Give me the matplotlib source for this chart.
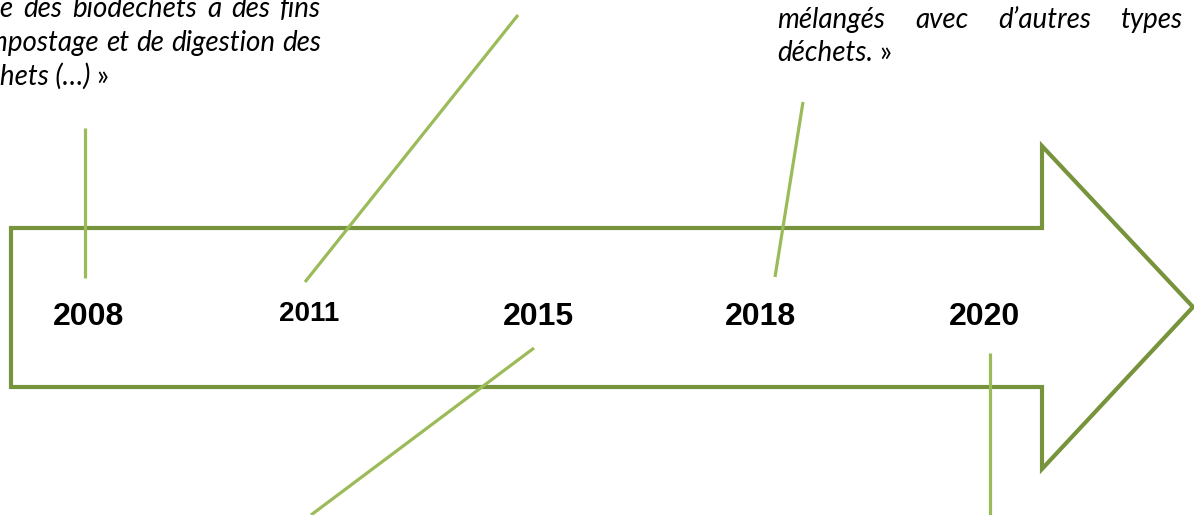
import matplotlib.pyplot as plt
from matplotlib.patches import Polygon

# ---- data -------------------------------------------------------------
years = ['2008', '2011', '2015', '2018', '2020']
year_x = [89, 309, 538, 761, 985]
year_y = [317, 314, 317, 317, 317]
year_size = [23, 20, 23, 23, 23]

# connector segments (x0, y0, x1, y1), pixel coordinates
connectors = [
    (85, 128, 85, 278),
    (305, 282, 518, 15),
    (534, 348, 311, 515),
    (775, 277, 803, 102),
    (990, 353, 990, 515),
]

# arrow outline
arrow_x = [11, 1042, 1042, 1193, 1042, 1042, 11]
arrow_y = [228, 228, 146, 307, 469, 387, 387]

# quote fragments
left_lines = [
    ['séparée', 'des', 'biodéchets', 'à', 'des', 'fins'],
    ['de', 'compostage', 'et', 'de', 'digestion', 'des'],
]
left_last = ('biodéchets (…)', ' »')
right_lines = [
    ['mélangés', 'avec', 'd’autres', 'types'],
]
right_last = ('déchets.', ' »')

OLIVE = '#77933C'
LIGHT = '#9BBB59'
W, H = 1194, 515

fig = plt.figure(figsize=(W / 100, H / 100), dpi=100)
ax = fig.add_axes([0, 0, 1, 1])
ax.set_xlim(0, W)
ax.set_ylim(H, 0)
ax.axis('off')

ax.add_patch(Polygon(list(zip(arrow_x, arrow_y)), closed=True, fill=False,
                     edgecolor=OLIVE, lw=3.0, joinstyle='miter'))

for x0, y0, x1, y1 in connectors:
    ax.plot([x0, x1], [y0, y1], color=LIGHT, lw=2.3, solid_capstyle='butt')

for yr, x, y, s in zip(years, year_x, year_y, year_size):
    ax.text(x, y, yr, ha='center', va='center', fontsize=s, fontweight='bold',
            family='Liberation Sans', color='black')

fig.canvas.draw()
renderer = fig.canvas.get_renderer()
FONT = dict(family='Lato', fontsize=20, color='black')


def width(s, style='italic'):
    t = ax.text(0, 0, s, style=style, **FONT)
    w = t.get_window_extent(renderer).width
    t.remove()
    return w


def justify(words, left, right, y):
    ws = [width(w) for w in words]
    gap = (right - left - sum(ws)) / (len(words) - 1)
    x = left
    for w, wd in zip(words, ws):
        ax.text(x, y, w, style='italic', ha='left', va='baseline', **FONT)
        x += wd + gap


def last_line(parts, left, y):
    ital, plain = parts
    ax.text(left, y, ital, style='italic', ha='left', va='baseline', **FONT)
    ax.text(left + width(ital), y, plain, style='normal', ha='left',
            va='baseline', **FONT)


# left quote: cut off at the figure's left and top edges
left_margin = -width('biodéc')
for words, y in zip(left_lines, [17, 51]):
    justify(words, left_margin, 321, y)
last_line(left_last, left_margin, 85)

# right quote
for words, y in zip(right_lines, [28]):
    justify(words, 777, 1183, y)
last_line(right_last, 777, 61)

fig.savefig('out.png', dpi=100)
